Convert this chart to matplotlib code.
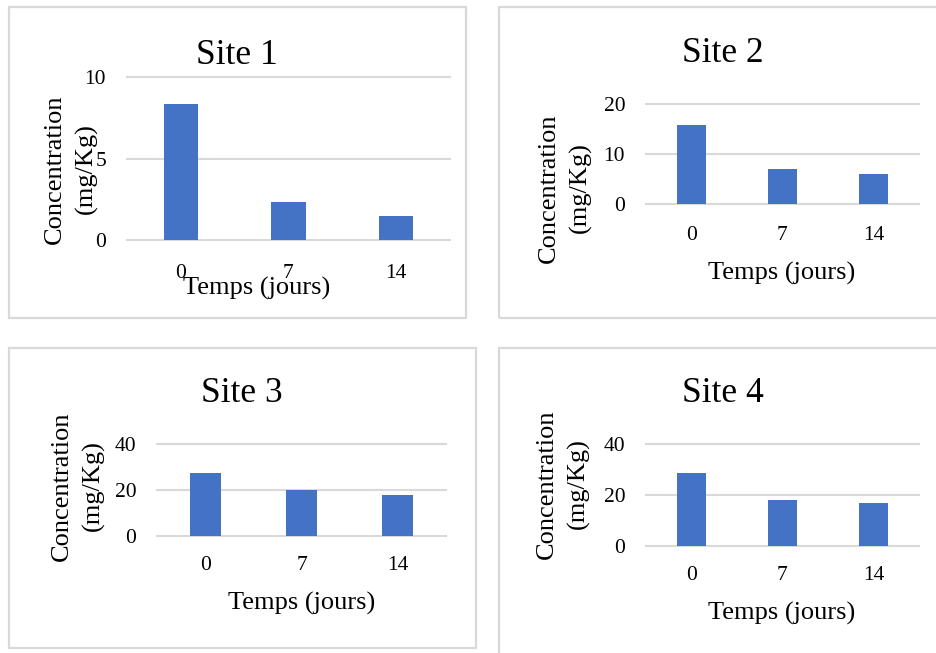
import matplotlib
matplotlib.use("Agg")
import matplotlib.pyplot as plt
from matplotlib.patches import Rectangle

# Data: soil concentration (mg/Kg) per sampling day, for each site
days = ["0", "7", "14"]
site1 = [8.35, 2.35, 1.45]
site2 = [15.9, 7.0, 6.1]
site3 = [27.2, 20.0, 17.9]
site4 = [28.5, 18.0, 16.8]
titles = ["Site 1", "Site 2", "Site 3", "Site 4"]
ymax = [10, 20, 40, 40]
yticks = [[0, 5, 10], [0, 10, 20], [0, 20, 40], [0, 20, 40]]
xlabel = "Temps (jours)"
ylabel = "Concentration\n(mg/Kg)"

BAR = "#4472C4"
GRID = "#D9D9D9"
FONT = "Liberation Serif"

W, H = 936, 653
plt.rcParams["font.family"] = [FONT, "DejaVu Serif"]
fig = plt.figure(figsize=(W / 100, H / 100), dpi=100)


def fx(x):
    return x / W


def fy(y):
    return 1 - y / H


# panel layout in pixel units (top-left origin)
panels = [
    dict(vals=site1, box=(9, 7, 466, 318), ax=(127, 77, 450, 240), xpad=17,
         title=(237, 56), xl=(257, 288), yl=(71, 169)),
    dict(vals=site2, box=(499, 7, 940, 318), ax=(646, 104, 919, 204), xpad=16,
         title=(723, 53), xl=(782, 273), yl=(565, 188)),
    dict(vals=site3, box=(9, 348, 476, 648), ax=(157, 444, 446, 536), xpad=14.5,
         title=(242, 393), xl=(302, 603), yl=(78, 486)),
    dict(vals=site4, box=(499, 348, 940, 660), ax=(646, 444, 919, 546), xpad=14.5,
         title=(723, 393), xl=(782, 613), yl=(563, 484)),
]

for i, p in enumerate(panels):
    bx0, by0, bx1, by1 = p["box"]
    fig.patches.append(Rectangle((fx(bx0), fy(by1)), (bx1 - bx0) / W, (by1 - by0) / H,
                                 transform=fig.transFigure, fill=False,
                                 edgecolor=GRID, linewidth=1.6))

    x0, y0, x1, y1 = p["ax"]
    ax = fig.add_axes([fx(x0), fy(y1), (x1 - x0) / W, (y1 - y0) / H])
    ax.bar(range(len(days)), p["vals"], width=0.32, color=BAR, zorder=3)
    ax.set_xlim(-0.5, len(days) - 0.5)
    ax.set_ylim(0, ymax[i])
    ax.set_xticks(range(len(days)))
    ax.set_xticklabels(days)
    ax.set_yticks(yticks[i])
    for s in ax.spines.values():
        s.set_visible(False)
    ax.yaxis.grid(True, color=GRID, linewidth=1.5, zorder=0)
    ax.set_axisbelow(True)
    ax.tick_params(axis="both", length=0, labelsize=15.5, colors="black")
    ax.tick_params(axis="y", pad=15)
    ax.tick_params(axis="x", pad=p["xpad"])
    for gl in ax.yaxis.get_gridlines():
        gl.set_clip_on(False)

    tx, ty = p["title"]
    fig.text(fx(tx), fy(ty), titles[i], fontsize=25.5, ha="center", va="center")
    lx, ly = p["xl"]
    fig.text(fx(lx), fy(ly), xlabel, fontsize=19, ha="center", va="center")
    yx, yy = p["yl"]
    fig.text(fx(yx), fy(yy), ylabel, fontsize=19, ha="center", va="center",
             rotation=90, multialignment="center", linespacing=1.5)

fig.savefig("out.png", dpi=100, facecolor="white")
